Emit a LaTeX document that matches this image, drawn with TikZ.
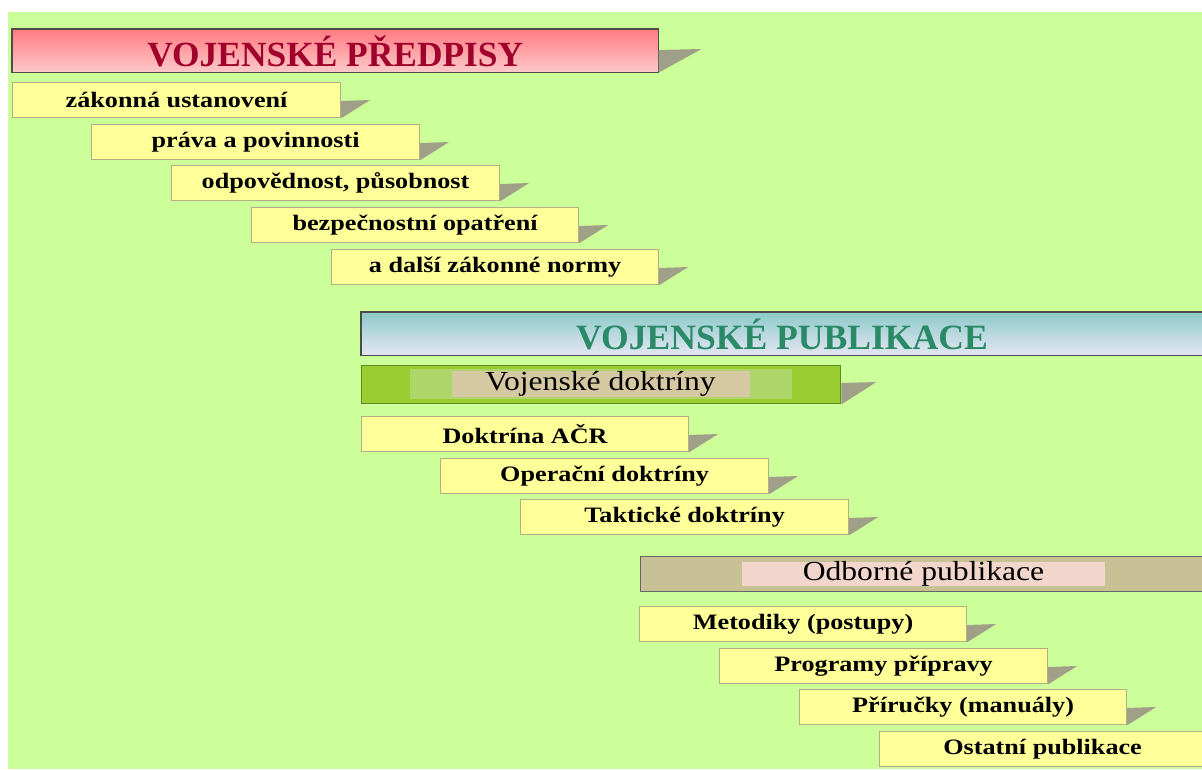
\documentclass[tikz,border=0pt]{standalone}
\usepackage{fontspec}
\setmainfont{Liberation Serif}
\newfontfamily\wserif[FakeStretch=1.19]{Liberation Serif}
\newfontfamily\mserif[FakeStretch=1.15]{Liberation Serif}
\usetikzlibrary{calc}
\definecolor{bgc}{HTML}{CCFF99}
\definecolor{yelc}{HTML}{FFFF99}
\definecolor{yelb}{HTML}{B4AE84}
\definecolor{shc}{HTML}{A09F88}
\definecolor{redt}{HTML}{A0002C}
\definecolor{pubt}{HTML}{2A8A68}
\definecolor{grnc}{HTML}{9ACD32}
\definecolor{grnl}{HTML}{ADD66A}
\definecolor{grnb}{HTML}{5E8C1E}
\definecolor{tanc}{HTML}{D6C9A2}
\definecolor{khac}{HTML}{C8C196}
\definecolor{pinkl}{HTML}{F2D6CC}
\definecolor{redtop}{HTML}{FF7A82}
\definecolor{redmid}{HTML}{FFAAAC}
\definecolor{redbot}{HTML}{FFCACA}
\definecolor{bltop}{HTML}{8CCAC8}
\definecolor{blmid}{HTML}{D2F0E2}
\definecolor{blbot}{HTML}{E6E6F4}
\tikzset{
  ybox/.style={draw=yelb, line width=1.2pt, fill=yelc, anchor=north west,
    minimum height=35pt, inner sep=0pt, text=black,
    font=\wserif\bfseries\fontsize{22}{22}\selectfont},
  bigbox/.style={draw=black!70, line width=1.6pt, anchor=north west, inner sep=0pt},
  labbox/.style={inner sep=0pt, text=black, font=\mserif\fontsize{27.5}{27.5}\selectfont},
  shadowfill/.style={fill=shc}
}
\newcommand{\shtri}[4]{% node, drop, length, lift
  \fill[shadowfill] ($(#1.north east)+(0,#2)$) -- ($(#1.north east)+(#3,#2-#4)$) -- (#1.south east) -- cycle;}
\begin{document}
\begin{tikzpicture}[x=1pt,y=-1pt]
\useasboundingbox (0,0) rectangle (1202,769);
\clip (0,0) rectangle (1202,769);
\fill[white] (0,0) rectangle (1202,769);
\fill[bgc] (8,12) rectangle (1202,769);

% VOJENSKE PREDPISY
\node[bigbox, minimum width=645pt, minimum height=42pt] (pred) at (12,29) {};
\shade[top color=redtop, middle color=redmid, bottom color=redbot] (pred.north west) rectangle (pred.south east);
\draw[black!70, line width=1.6pt] (pred.north west) rectangle (pred.south east);
\node[text=redt, font=\bfseries\fontsize{35.4}{35.4}\selectfont] (predt) at ($(pred.center)+(0,1)$) {VOJENSKÉ PŘEDPISY};
\shtri{pred}{21}{43}{1}

\node[ybox, minimum width=328pt] (b1) at (12,82) {zákonná ustanovení};
\node[ybox, minimum width=328pt] (b2) at (91,124) {práva a povinnosti};
\node[ybox, minimum width=328pt] (b3) at (171,165) {odpovědnost, působnost};
\node[ybox, minimum width=327pt] (b4) at (251,207) {bezpečnostní opatření};
\node[ybox, minimum width=327pt] (b5) at (331,249) {a další zákonné normy};
\foreach \n in {b1,b2,b3,b4,b5} {\shtri{\n}{19}{29}{1}}

% VOJENSKE PUBLIKACE
\node[bigbox, minimum width=860pt, minimum height=42pt] (pub) at (361,312) {};
\shade[top color=bltop, middle color=blmid, bottom color=blbot] (pub.north west) rectangle (pub.south east);
\draw[black!70, line width=1.6pt] (pub.north west) rectangle (pub.south east);
\node[text=pubt, font=\bfseries\fontsize{35.6}{35.6}\selectfont] (pubt) at (782,334) {VOJENSKÉ PUBLIKACE};

% Vojenske doktriny
\node[draw=grnb, line width=1.4pt, fill=grnc, anchor=north west, minimum width=479pt, minimum height=38pt, inner sep=0pt] (vd) at (361,365) {};
\fill[grnl] (410,369) rectangle (792,399);
\node[labbox, fill=tanc, minimum width=298pt, minimum height=24pt] (vdl) at (600.5,384) {Vojenské doktríny};
\shtri{vd}{18}{35}{1}

\node[ybox, minimum width=327pt] (b8) at (361,416) {Doktrína AČR};
\node[ybox, minimum width=328pt] (b9) at (440,458) {Operační doktríny};
\node[ybox, minimum width=328pt] (b10) at (520,499) {Taktické doktríny};
\foreach \n in {b8,b9,b10} {\shtri{\n}{19}{29}{1}}

% Odborne publikace
\node[draw=black!60, line width=1.4pt, fill=khac, anchor=north west, minimum width=580pt, minimum height=35pt, inner sep=0pt] (odb) at (640,556) {};
\node[labbox, fill=pinkl, minimum width=363pt, minimum height=23pt] (odbl) at (923.5,574) {Odborné publikace};

\node[ybox, minimum width=327pt] (b12) at (639,606) {Metodiky (postupy)};
\node[ybox, minimum width=328pt] (b13) at (719,648) {Programy přípravy};
\node[ybox, minimum width=327pt] (b14) at (799,689) {Příručky (manuály)};
\node[ybox, minimum width=340pt] (b15) at (879,731) {\hspace*{-14pt}Ostatní publikace};
\foreach \n in {b12,b13,b14} {\shtri{\n}{19}{29}{1}}
\end{tikzpicture}
\end{document}
